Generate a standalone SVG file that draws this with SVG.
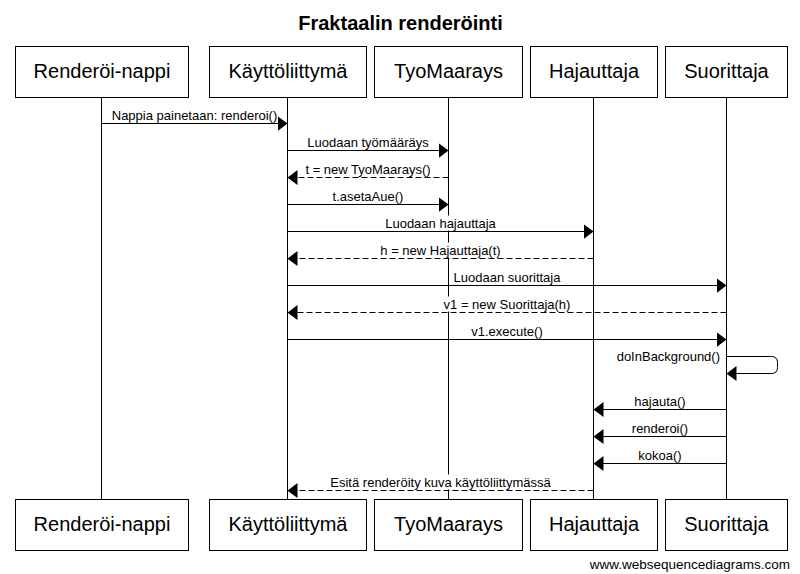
<svg xmlns="http://www.w3.org/2000/svg" width="800" height="574" viewBox="0 0 800 574">
<style>
.box{fill:#fff;stroke:#000;stroke-width:1}
.life{stroke:#000;stroke-width:1;fill:none}
.pt{font-family:"Liberation Sans",Arial,sans-serif;font-size:20px;fill:#000;text-anchor:middle}
.title{font-family:"Liberation Sans",Arial,sans-serif;font-size:20px;font-weight:bold;fill:#000;text-anchor:middle}
.ml{font-family:"Liberation Sans",Arial,sans-serif;font-size:13px;fill:#000;text-anchor:middle}
.msg{stroke:#000;stroke-width:1;fill:none;marker-end:url(#ah)}
.ret{stroke:#000;stroke-width:1;fill:none;stroke-dasharray:6,3;marker-end:url(#ah)}
.lbg{fill:#fff;stroke:none}
.wm{font-family:"Liberation Sans",Arial,sans-serif;font-size:13.5px;fill:#000;text-anchor:end}
</style>
<defs>
<marker id="ah" markerUnits="userSpaceOnUse" markerWidth="10" markerHeight="15" refX="10" refY="7.5" orient="auto">
<path d="M0,0 L10,7.5 L0,15 Z" fill="#000"/>
</marker>
</defs>
<rect width="800" height="574" fill="#fff"/>
<text class="title" x="400.5" y="29.5">Fraktaalin renderöinti</text>

<g id="renderoi-nappi">
<line class="life" x1="101.5" y1="97" x2="101.5" y2="500"/>
<rect class="box" x="15.5" y="46.5" width="173" height="51"/>
<text class="pt" x="102" y="77.5">Renderöi-nappi</text>
<rect class="box" x="15.5" y="499.5" width="173" height="51"/>
<text class="pt" x="102" y="531">Renderöi-nappi</text>
</g>
<g id="kayttoliittyma">
<line class="life" x1="287.5" y1="97" x2="287.5" y2="500"/>
<rect class="box" x="209.5" y="46.5" width="157" height="51"/>
<text class="pt" x="288" y="77.5">Käyttöliittymä</text>
<rect class="box" x="209.5" y="499.5" width="157" height="51"/>
<text class="pt" x="288" y="531">Käyttöliittymä</text>
</g>
<g id="tyomaarays">
<line class="life" x1="448.5" y1="97" x2="448.5" y2="500"/>
<rect class="box" x="374.5" y="46.5" width="148" height="51"/>
<text class="pt" x="448.5" y="77.5">TyoMaarays</text>
<rect class="box" x="374.5" y="499.5" width="148" height="51"/>
<text class="pt" x="448.5" y="531">TyoMaarays</text>
</g>
<g id="hajauttaja">
<line class="life" x1="593.5" y1="97" x2="593.5" y2="500"/>
<rect class="box" x="530.5" y="46.5" width="127" height="51"/>
<text class="pt" x="594" y="77.5">Hajauttaja</text>
<rect class="box" x="530.5" y="499.5" width="127" height="51"/>
<text class="pt" x="594" y="531">Hajauttaja</text>
</g>
<g id="suorittaja">
<line class="life" x1="726.5" y1="97" x2="726.5" y2="500"/>
<rect class="box" x="665.5" y="46.5" width="122" height="51"/>
<text class="pt" x="726.5" y="77.5">Suorittaja</text>
<rect class="box" x="665.5" y="499.5" width="122" height="51"/>
<text class="pt" x="726.5" y="531">Suorittaja</text>
</g>

<g id="connectors">
<path class="msg" d="M101.5,123.5 H287.5"/>
<text class="ml" x="194.5" y="119.5">Nappia painetaan: renderoi()</text>

<path class="msg" d="M287.5,150.5 H448.5"/>
<text class="ml" x="368" y="146.5">Luodaan työmääräys</text>

<path class="ret" d="M448.5,177.5 H287.5"/>
<text class="ml" x="368" y="173.5">t = new TyoMaarays()</text>

<path class="msg" d="M287.5,204.5 H448.5"/>
<text class="ml" x="368" y="200.5">t.asetaAue()</text>

<path class="msg" d="M287.5,231.5 H593.5"/>
<rect class="lbg" x="384.5" y="215.5" width="112" height="15"/>
<text class="ml" x="440.5" y="227.5">Luodaan hajauttaja</text>

<path class="ret" d="M593.5,258.5 H287.5"/>
<rect class="lbg" x="379.5" y="242.5" width="122" height="15"/>
<text class="ml" x="440.5" y="254.5">h = new Hajauttaja(t)</text>

<path class="msg" d="M287.5,285.5 H726.5"/>
<text class="ml" x="507" y="281.5">Luodaan suorittaja</text>

<path class="ret" d="M726.5,312.5 H287.5"/>
<rect class="lbg" x="443" y="296.5" width="128" height="15"/>
<text class="ml" x="507" y="308.5">v1 = new Suorittaja(h)</text>

<path class="msg" d="M287.5,339.5 H726.5"/>
<text class="ml" x="507" y="335.5">v1.execute()</text>

<path class="msg" d="M726.5,356.5 H771.5 Q777.5,356.5 777.5,362.5 V367.5 Q777.5,373.5 771.5,373.5 H726.5"/>
<text class="ml" x="720" y="361" style="text-anchor:end">doInBackground()</text>

<path class="msg" d="M726.5,409.5 H593.5"/>
<text class="ml" x="660" y="405.5">hajauta()</text>

<path class="msg" d="M726.5,436.5 H593.5"/>
<text class="ml" x="660" y="432.5">renderoi()</text>

<path class="msg" d="M726.5,463.5 H593.5"/>
<text class="ml" x="660" y="459.5">kokoa()</text>

<path class="ret" d="M593.5,490.5 H287.5"/>
<rect class="lbg" x="329.5" y="474.5" width="222" height="15"/>
<text class="ml" x="440.5" y="486.5">Esitä renderöity kuva käyttöliittymässä</text>
</g>

<text class="wm" x="790" y="568.5">www.websequencediagrams.com</text>
</svg>
